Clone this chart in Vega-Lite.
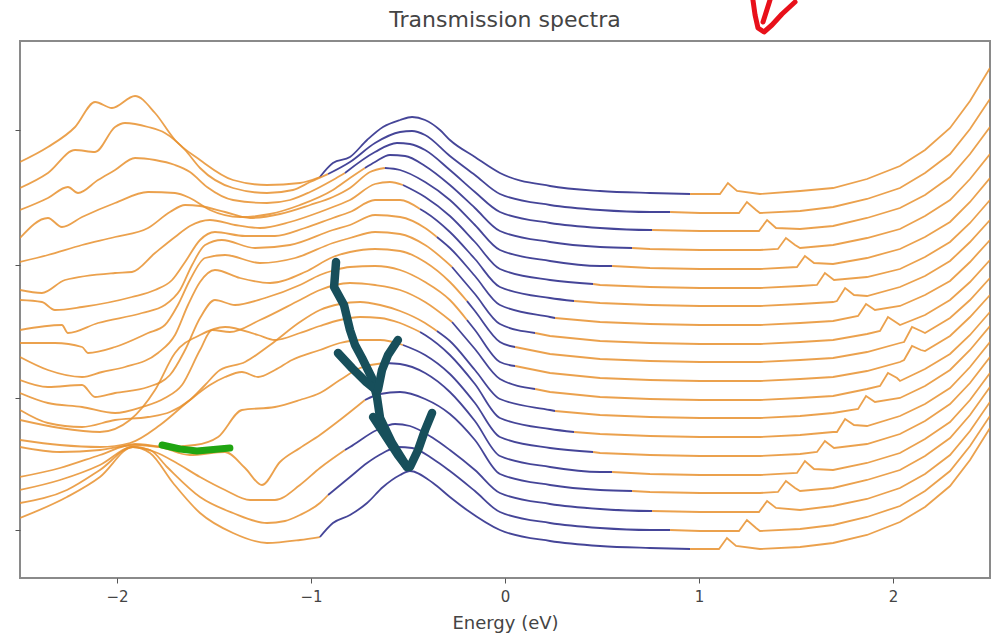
{
"$schema": "https://vega.github.io/schema/vega-lite/v6.json",
"width": 970, "height": 537,
"autosize": {"type": "none"},
"padding": {"left": 20, "top": 41, "right": 11, "bottom": 57},
"background": "white",
"title": {"text": "Transmission spectra", "fontSize": 22, "font": "DejaVu Sans", "fontWeight": "normal", "color": "#444444", "offset": 12, "dy": 46, "anchor": "middle"},
"config": {"view": {"stroke": "#8a8a8a", "strokeWidth": 2}},
"datasets": {
"curves": [
{"s":"0L","c":"o","E":-2.5,"T":4.16},{"s":"0L","c":"o","E":-2.356,"T":4.31},{"s":"0L","c":"o","E":-2.216,"T":4.51},{"s":"0L","c":"o","E":-2.113,"T":4.76},{"s":"0L","c":"o","E":-2.026,"T":4.70},{"s":"0L","c":"o","E":-1.907,"T":4.82},{"s":"0L","c":"o","E":-1.804,"T":4.65},{"s":"0L","c":"o","E":-1.701,"T":4.38},{"s":"0L","c":"o","E":-1.572,"T":4.18},{"s":"0L","c":"o","E":-1.402,"T":3.98},{"s":"0L","c":"o","E":-1.227,"T":3.93},{"s":"0L","c":"o","E":-1.057,"T":3.95},{"s":"0L","c":"o","E":-0.954,"T":4.01},
{"s":"0B","c":"b","E":-0.954,"T":4.01},{"s":"0B","c":"b","E":-0.887,"T":4.15},{"s":"0B","c":"b","E":-0.799,"T":4.21},{"s":"0B","c":"b","E":-0.711,"T":4.38},{"s":"0B","c":"b","E":-0.629,"T":4.51},{"s":"0B","c":"b","E":-0.541,"T":4.58},{"s":"0B","c":"b","E":-0.479,"T":4.61},{"s":"0B","c":"b","E":-0.412,"T":4.58},{"s":"0B","c":"b","E":-0.335,"T":4.48},{"s":"0B","c":"b","E":-0.284,"T":4.38},{"s":"0B","c":"b","E":-0.155,"T":4.21},{"s":"0B","c":"b","E":-0.026,"T":4.05},{"s":"0B","c":"b","E":0.232,"T":3.92},{"s":"0B","c":"b","E":0.490,"T":3.87},{"s":"0B","c":"b","E":0.747,"T":3.85},{"s":"0B","c":"b","E":0.954,"T":3.84},
{"s":"0R","c":"o","E":0.954,"T":3.84},{"s":"0R","c":"o","E":1.005,"T":3.84},{"s":"0R","c":"o","E":1.108,"T":3.84},{"s":"0R","c":"o","E":1.149,"T":3.95},{"s":"0R","c":"o","E":1.196,"T":3.87},{"s":"0R","c":"o","E":1.314,"T":3.84},{"s":"0R","c":"o","E":1.521,"T":3.87},{"s":"0R","c":"o","E":1.691,"T":3.90},{"s":"0R","c":"o","E":1.866,"T":3.99},{"s":"0R","c":"o","E":2.036,"T":4.12},{"s":"0R","c":"o","E":2.165,"T":4.28},{"s":"0R","c":"o","E":2.294,"T":4.50},{"s":"0R","c":"o","E":2.397,"T":4.77},{"s":"0R","c":"o","E":2.5,"T":5.10},

{"s":"1L","c":"o","E":-2.5,"T":3.90},{"s":"1L","c":"o","E":-2.356,"T":4.05},{"s":"1L","c":"o","E":-2.216,"T":4.28},{"s":"1L","c":"o","E":-2.113,"T":4.26},{"s":"1L","c":"o","E":-2.010,"T":4.51},{"s":"1L","c":"o","E":-1.959,"T":4.55},{"s":"1L","c":"o","E":-1.840,"T":4.51},{"s":"1L","c":"o","E":-1.753,"T":4.45},{"s":"1L","c":"o","E":-1.649,"T":4.28},{"s":"1L","c":"o","E":-1.572,"T":4.10},{"s":"1L","c":"o","E":-1.402,"T":3.90},{"s":"1L","c":"o","E":-1.227,"T":3.85},{"s":"1L","c":"o","E":-1.093,"T":3.88},{"s":"1L","c":"o","E":-1.005,"T":3.96},{"s":"1L","c":"o","E":-0.912,"T":4.04},
{"s":"1B","c":"b","E":-0.912,"T":4.04},{"s":"1B","c":"b","E":-0.799,"T":4.16},{"s":"1B","c":"b","E":-0.670,"T":4.35},{"s":"1B","c":"b","E":-0.541,"T":4.46},{"s":"1B","c":"b","E":-0.479,"T":4.47},{"s":"1B","c":"b","E":-0.412,"T":4.43},{"s":"1B","c":"b","E":-0.284,"T":4.22},{"s":"1B","c":"b","E":-0.155,"T":4.03},{"s":"1B","c":"b","E":-0.026,"T":3.84},{"s":"1B","c":"b","E":0.232,"T":3.73},{"s":"1B","c":"b","E":0.490,"T":3.68},{"s":"1B","c":"b","E":0.747,"T":3.66},{"s":"1B","c":"b","E":0.851,"T":3.66},
{"s":"1R","c":"o","E":0.851,"T":3.66},{"s":"1R","c":"o","E":1.005,"T":3.65},{"s":"1R","c":"o","E":1.206,"T":3.65},{"s":"1R","c":"o","E":1.247,"T":3.76},{"s":"1R","c":"o","E":1.294,"T":3.68},{"s":"1R","c":"o","E":1.314,"T":3.65},{"s":"1R","c":"o","E":1.521,"T":3.67},{"s":"1R","c":"o","E":1.691,"T":3.71},{"s":"1R","c":"o","E":1.866,"T":3.79},{"s":"1R","c":"o","E":2.036,"T":3.90},{"s":"1R","c":"o","E":2.165,"T":4.05},{"s":"1R","c":"o","E":2.294,"T":4.24},{"s":"1R","c":"o","E":2.397,"T":4.49},{"s":"1R","c":"o","E":2.5,"T":4.79},

{"s":"2L","c":"o","E":-2.5,"T":3.68},{"s":"2L","c":"o","E":-2.356,"T":3.80},{"s":"2L","c":"o","E":-2.253,"T":3.91},{"s":"2L","c":"o","E":-2.201,"T":3.85},{"s":"2L","c":"o","E":-2.098,"T":3.98},{"s":"2L","c":"o","E":-2.010,"T":4.08},{"s":"2L","c":"o","E":-1.907,"T":4.20},{"s":"2L","c":"o","E":-1.804,"T":4.18},{"s":"2L","c":"o","E":-1.701,"T":4.13},{"s":"2L","c":"o","E":-1.624,"T":4.06},{"s":"2L","c":"o","E":-1.536,"T":3.91},{"s":"2L","c":"o","E":-1.402,"T":3.78},{"s":"2L","c":"o","E":-1.227,"T":3.75},{"s":"2L","c":"o","E":-1.108,"T":3.78},{"s":"2L","c":"o","E":-1.005,"T":3.86},{"s":"2L","c":"o","E":-0.887,"T":3.98},{"s":"2L","c":"o","E":-0.825,"T":4.05},
{"s":"2B","c":"b","E":-0.825,"T":4.05},{"s":"2B","c":"b","E":-0.670,"T":4.26},{"s":"2B","c":"b","E":-0.557,"T":4.35},{"s":"2B","c":"b","E":-0.490,"T":4.34},{"s":"2B","c":"b","E":-0.412,"T":4.28},{"s":"2B","c":"b","E":-0.284,"T":4.08},{"s":"2B","c":"b","E":-0.155,"T":3.86},{"s":"2B","c":"b","E":-0.026,"T":3.66},{"s":"2B","c":"b","E":0.232,"T":3.55},{"s":"2B","c":"b","E":0.490,"T":3.50},{"s":"2B","c":"b","E":0.747,"T":3.48},{"s":"2B","c":"b","E":0.758,"T":3.48},
{"s":"2R","c":"o","E":0.758,"T":3.48},{"s":"2R","c":"o","E":1.005,"T":3.47},{"s":"2R","c":"o","E":1.309,"T":3.47},{"s":"2R","c":"o","E":1.351,"T":3.58},{"s":"2R","c":"o","E":1.397,"T":3.50},{"s":"2R","c":"o","E":1.521,"T":3.49},{"s":"2R","c":"o","E":1.691,"T":3.52},{"s":"2R","c":"o","E":1.866,"T":3.60},{"s":"2R","c":"o","E":2.036,"T":3.70},{"s":"2R","c":"o","E":2.165,"T":3.83},{"s":"2R","c":"o","E":2.294,"T":4.01},{"s":"2R","c":"o","E":2.397,"T":4.24},{"s":"2R","c":"o","E":2.5,"T":4.51},

{"s":"3L","c":"o","E":-2.5,"T":3.40},{"s":"3L","c":"o","E":-2.356,"T":3.60},{"s":"3L","c":"o","E":-2.284,"T":3.51},{"s":"3L","c":"o","E":-2.180,"T":3.61},{"s":"3L","c":"o","E":-2.010,"T":3.75},{"s":"3L","c":"o","E":-1.840,"T":3.86},{"s":"3L","c":"o","E":-1.701,"T":3.85},{"s":"3L","c":"o","E":-1.624,"T":3.80},{"s":"3L","c":"o","E":-1.521,"T":3.68},{"s":"3L","c":"o","E":-1.366,"T":3.61},{"s":"3L","c":"o","E":-1.211,"T":3.64},{"s":"3L","c":"o","E":-1.057,"T":3.73},{"s":"3L","c":"o","E":-0.887,"T":3.88},{"s":"3L","c":"o","E":-0.799,"T":4.00},{"s":"3L","c":"o","E":-0.722,"T":4.10},
{"s":"3B","c":"b","E":-0.722,"T":4.10},{"s":"3B","c":"b","E":-0.670,"T":4.16},{"s":"3B","c":"b","E":-0.593,"T":4.23},{"s":"3B","c":"b","E":-0.515,"T":4.22},{"s":"3B","c":"b","E":-0.412,"T":4.12},{"s":"3B","c":"b","E":-0.284,"T":3.93},{"s":"3B","c":"b","E":-0.155,"T":3.70},{"s":"3B","c":"b","E":-0.026,"T":3.47},{"s":"3B","c":"b","E":0.232,"T":3.36},{"s":"3B","c":"b","E":0.490,"T":3.31},{"s":"3B","c":"b","E":0.655,"T":3.30},
{"s":"3R","c":"o","E":0.655,"T":3.30},{"s":"3R","c":"o","E":0.747,"T":3.29},{"s":"3R","c":"o","E":1.005,"T":3.28},{"s":"3R","c":"o","E":1.314,"T":3.28},{"s":"3R","c":"o","E":1.407,"T":3.29},{"s":"3R","c":"o","E":1.448,"T":3.40},{"s":"3R","c":"o","E":1.495,"T":3.33},{"s":"3R","c":"o","E":1.521,"T":3.30},{"s":"3R","c":"o","E":1.691,"T":3.33},{"s":"3R","c":"o","E":1.866,"T":3.40},{"s":"3R","c":"o","E":2.036,"T":3.49},{"s":"3R","c":"o","E":2.165,"T":3.62},{"s":"3R","c":"o","E":2.294,"T":3.78},{"s":"3R","c":"o","E":2.397,"T":3.99},{"s":"3R","c":"o","E":2.5,"T":4.24},

{"s":"4L","c":"o","E":-2.5,"T":3.16},{"s":"4L","c":"o","E":-2.356,"T":3.23},{"s":"4L","c":"o","E":-2.180,"T":3.33},{"s":"4L","c":"o","E":-2.010,"T":3.41},{"s":"4L","c":"o","E":-1.840,"T":3.50},{"s":"4L","c":"o","E":-1.727,"T":3.66},{"s":"4L","c":"o","E":-1.649,"T":3.73},{"s":"4L","c":"o","E":-1.572,"T":3.72},{"s":"4L","c":"o","E":-1.443,"T":3.66},{"s":"4L","c":"o","E":-1.314,"T":3.60},{"s":"4L","c":"o","E":-1.160,"T":3.64},{"s":"4L","c":"o","E":-1.005,"T":3.73},{"s":"4L","c":"o","E":-0.887,"T":3.81},{"s":"4L","c":"o","E":-0.799,"T":3.90},{"s":"4L","c":"o","E":-0.696,"T":4.06},{"s":"4L","c":"o","E":-0.619,"T":4.10},
{"s":"4B","c":"b","E":-0.619,"T":4.10},{"s":"4B","c":"b","E":-0.541,"T":4.08},{"s":"4B","c":"b","E":-0.412,"T":3.96},{"s":"4B","c":"b","E":-0.284,"T":3.78},{"s":"4B","c":"b","E":-0.155,"T":3.53},{"s":"4B","c":"b","E":-0.026,"T":3.28},{"s":"4B","c":"b","E":0.232,"T":3.17},{"s":"4B","c":"b","E":0.490,"T":3.12},{"s":"4B","c":"b","E":0.552,"T":3.12},
{"s":"4R","c":"o","E":0.552,"T":3.12},{"s":"4R","c":"o","E":0.747,"T":3.10},{"s":"4R","c":"o","E":1.005,"T":3.09},{"s":"4R","c":"o","E":1.314,"T":3.09},{"s":"4R","c":"o","E":1.505,"T":3.11},{"s":"4R","c":"o","E":1.546,"T":3.22},{"s":"4R","c":"o","E":1.593,"T":3.15},{"s":"4R","c":"o","E":1.691,"T":3.14},{"s":"4R","c":"o","E":1.866,"T":3.20},{"s":"4R","c":"o","E":2.036,"T":3.29},{"s":"4R","c":"o","E":2.165,"T":3.41},{"s":"4R","c":"o","E":2.294,"T":3.56},{"s":"4R","c":"o","E":2.397,"T":3.76},{"s":"4R","c":"o","E":2.5,"T":4.00},

{"s":"5L","c":"o","E":-2.5,"T":2.88},{"s":"5L","c":"o","E":-2.387,"T":2.85},{"s":"5L","c":"o","E":-2.268,"T":2.98},{"s":"5L","c":"o","E":-2.010,"T":3.05},{"s":"5L","c":"o","E":-1.923,"T":3.06},{"s":"5L","c":"o","E":-1.804,"T":3.25},{"s":"5L","c":"o","E":-1.701,"T":3.41},{"s":"5L","c":"o","E":-1.624,"T":3.52},{"s":"5L","c":"o","E":-1.521,"T":3.58},{"s":"5L","c":"o","E":-1.392,"T":3.53},{"s":"5L","c":"o","E":-1.263,"T":3.50},{"s":"5L","c":"o","E":-1.108,"T":3.56},{"s":"5L","c":"o","E":-0.954,"T":3.66},{"s":"5L","c":"o","E":-0.887,"T":3.71},{"s":"5L","c":"o","E":-0.799,"T":3.78},{"s":"5L","c":"o","E":-0.670,"T":3.94},{"s":"5L","c":"o","E":-0.593,"T":3.96},{"s":"5L","c":"o","E":-0.526,"T":3.93},
{"s":"5B","c":"b","E":-0.526,"T":3.93},{"s":"5B","c":"b","E":-0.412,"T":3.81},{"s":"5B","c":"b","E":-0.284,"T":3.62},{"s":"5B","c":"b","E":-0.155,"T":3.36},{"s":"5B","c":"b","E":-0.026,"T":3.09},{"s":"5B","c":"b","E":0.232,"T":2.98},{"s":"5B","c":"b","E":0.454,"T":2.94},
{"s":"5R","c":"o","E":0.454,"T":2.94},{"s":"5R","c":"o","E":0.490,"T":2.93},{"s":"5R","c":"o","E":0.747,"T":2.91},{"s":"5R","c":"o","E":1.005,"T":2.90},{"s":"5R","c":"o","E":1.314,"T":2.90},{"s":"5R","c":"o","E":1.521,"T":2.92},{"s":"5R","c":"o","E":1.608,"T":2.93},{"s":"5R","c":"o","E":1.649,"T":3.05},{"s":"5R","c":"o","E":1.696,"T":2.98},{"s":"5R","c":"o","E":1.866,"T":3.01},{"s":"5R","c":"o","E":2.036,"T":3.09},{"s":"5R","c":"o","E":2.165,"T":3.21},{"s":"5R","c":"o","E":2.294,"T":3.36},{"s":"5R","c":"o","E":2.397,"T":3.55},{"s":"5R","c":"o","E":2.5,"T":3.78},

{"s":"6L","c":"o","E":-2.5,"T":2.78},{"s":"6L","c":"o","E":-2.387,"T":2.76},{"s":"6L","c":"o","E":-2.320,"T":2.68},{"s":"6L","c":"o","E":-2.180,"T":2.71},{"s":"6L","c":"o","E":-1.923,"T":2.81},{"s":"6L","c":"o","E":-1.804,"T":2.88},{"s":"6L","c":"o","E":-1.716,"T":2.98},{"s":"6L","c":"o","E":-1.649,"T":3.16},{"s":"6L","c":"o","E":-1.572,"T":3.38},{"s":"6L","c":"o","E":-1.495,"T":3.46},{"s":"6L","c":"o","E":-1.340,"T":3.42},{"s":"6L","c":"o","E":-1.186,"T":3.42},{"s":"6L","c":"o","E":-1.031,"T":3.50},{"s":"6L","c":"o","E":-0.887,"T":3.60},{"s":"6L","c":"o","E":-0.799,"T":3.66},{"s":"6L","c":"o","E":-0.670,"T":3.78},{"s":"6L","c":"o","E":-0.541,"T":3.78},{"s":"6L","c":"o","E":-0.438,"T":3.69},
{"s":"6B","c":"b","E":-0.438,"T":3.69},{"s":"6B","c":"b","E":-0.412,"T":3.66},{"s":"6B","c":"b","E":-0.284,"T":3.46},{"s":"6B","c":"b","E":-0.155,"T":3.19},{"s":"6B","c":"b","E":-0.026,"T":2.91},{"s":"6B","c":"b","E":0.232,"T":2.80},{"s":"6B","c":"b","E":0.356,"T":2.77},
{"s":"6R","c":"o","E":0.356,"T":2.77},{"s":"6R","c":"o","E":0.490,"T":2.75},{"s":"6R","c":"o","E":0.747,"T":2.73},{"s":"6R","c":"o","E":1.005,"T":2.72},{"s":"6R","c":"o","E":1.314,"T":2.72},{"s":"6R","c":"o","E":1.521,"T":2.74},{"s":"6R","c":"o","E":1.691,"T":2.76},{"s":"6R","c":"o","E":1.711,"T":2.77},{"s":"6R","c":"o","E":1.753,"T":2.90},{"s":"6R","c":"o","E":1.799,"T":2.83},{"s":"6R","c":"o","E":1.866,"T":2.82},{"s":"6R","c":"o","E":2.036,"T":2.91},{"s":"6R","c":"o","E":2.165,"T":3.02},{"s":"6R","c":"o","E":2.294,"T":3.17},{"s":"6R","c":"o","E":2.397,"T":3.36},{"s":"6R","c":"o","E":2.5,"T":3.58},

{"s":"7L","c":"o","E":-2.5,"T":2.48},{"s":"7L","c":"o","E":-2.284,"T":2.53},{"s":"7L","c":"o","E":-2.253,"T":2.45},{"s":"7L","c":"o","E":-2.098,"T":2.55},{"s":"7L","c":"o","E":-1.871,"T":2.65},{"s":"7L","c":"o","E":-1.753,"T":2.73},{"s":"7L","c":"o","E":-1.675,"T":2.88},{"s":"7L","c":"o","E":-1.613,"T":3.13},{"s":"7L","c":"o","E":-1.546,"T":3.33},{"s":"7L","c":"o","E":-1.459,"T":3.38},{"s":"7L","c":"o","E":-1.289,"T":3.30},{"s":"7L","c":"o","E":-1.108,"T":3.33},{"s":"7L","c":"o","E":-0.887,"T":3.48},{"s":"7L","c":"o","E":-0.799,"T":3.53},{"s":"7L","c":"o","E":-0.670,"T":3.63},{"s":"7L","c":"o","E":-0.541,"T":3.61},{"s":"7L","c":"o","E":-0.412,"T":3.50},{"s":"7L","c":"o","E":-0.351,"T":3.41},
{"s":"7B","c":"b","E":-0.351,"T":3.41},{"s":"7B","c":"b","E":-0.284,"T":3.30},{"s":"7B","c":"b","E":-0.155,"T":3.02},{"s":"7B","c":"b","E":-0.026,"T":2.73},{"s":"7B","c":"b","E":0.232,"T":2.61},{"s":"7B","c":"b","E":0.258,"T":2.60},
{"s":"7R","c":"o","E":0.258,"T":2.60},{"s":"7R","c":"o","E":0.490,"T":2.56},{"s":"7R","c":"o","E":0.747,"T":2.54},{"s":"7R","c":"o","E":1.005,"T":2.53},{"s":"7R","c":"o","E":1.314,"T":2.53},{"s":"7R","c":"o","E":1.521,"T":2.55},{"s":"7R","c":"o","E":1.691,"T":2.57},{"s":"7R","c":"o","E":1.820,"T":2.62},{"s":"7R","c":"o","E":1.861,"T":2.74},{"s":"7R","c":"o","E":1.907,"T":2.68},{"s":"7R","c":"o","E":2.036,"T":2.72},{"s":"7R","c":"o","E":2.165,"T":2.83},{"s":"7R","c":"o","E":2.294,"T":2.97},{"s":"7R","c":"o","E":2.397,"T":3.16},{"s":"7R","c":"o","E":2.5,"T":3.38},

{"s":"8L","c":"o","E":-2.5,"T":2.35},{"s":"8L","c":"o","E":-2.320,"T":2.35},{"s":"8L","c":"o","E":-2.180,"T":2.31},{"s":"8L","c":"o","E":-2.149,"T":2.25},{"s":"8L","c":"o","E":-2.010,"T":2.31},{"s":"8L","c":"o","E":-1.840,"T":2.45},{"s":"8L","c":"o","E":-1.753,"T":2.53},{"s":"8L","c":"o","E":-1.686,"T":2.73},{"s":"8L","c":"o","E":-1.624,"T":2.98},{"s":"8L","c":"o","E":-1.546,"T":3.20},{"s":"8L","c":"o","E":-1.443,"T":3.23},{"s":"8L","c":"o","E":-1.263,"T":3.15},{"s":"8L","c":"o","E":-1.082,"T":3.20},{"s":"8L","c":"o","E":-0.887,"T":3.35},{"s":"8L","c":"o","E":-0.799,"T":3.40},{"s":"8L","c":"o","E":-0.670,"T":3.46},{"s":"8L","c":"o","E":-0.541,"T":3.44},{"s":"8L","c":"o","E":-0.412,"T":3.33},{"s":"8L","c":"o","E":-0.273,"T":3.11},
{"s":"8B","c":"b","E":-0.273,"T":3.11},{"s":"8B","c":"b","E":-0.155,"T":2.84},{"s":"8B","c":"b","E":-0.026,"T":2.54},{"s":"8B","c":"b","E":0.155,"T":2.45},
{"s":"8R","c":"o","E":0.155,"T":2.45},{"s":"8R","c":"o","E":0.232,"T":2.42},{"s":"8R","c":"o","E":0.490,"T":2.37},{"s":"8R","c":"o","E":0.747,"T":2.35},{"s":"8R","c":"o","E":1.005,"T":2.34},{"s":"8R","c":"o","E":1.314,"T":2.34},{"s":"8R","c":"o","E":1.521,"T":2.36},{"s":"8R","c":"o","E":1.691,"T":2.38},{"s":"8R","c":"o","E":1.866,"T":2.44},{"s":"8R","c":"o","E":1.933,"T":2.47},{"s":"8R","c":"o","E":1.974,"T":2.61},{"s":"8R","c":"o","E":2.021,"T":2.55},{"s":"8R","c":"o","E":2.036,"T":2.53},{"s":"8R","c":"o","E":2.165,"T":2.63},{"s":"8R","c":"o","E":2.294,"T":2.78},{"s":"8R","c":"o","E":2.397,"T":2.96},{"s":"8R","c":"o","E":2.5,"T":3.18},

{"s":"9L","c":"o","E":-2.5,"T":2.21},{"s":"9L","c":"o","E":-2.356,"T":2.08},{"s":"9L","c":"o","E":-2.180,"T":2.01},{"s":"9L","c":"o","E":-2.077,"T":2.06},{"s":"9L","c":"o","E":-1.959,"T":2.11},{"s":"9L","c":"o","E":-1.789,"T":2.25},{"s":"9L","c":"o","E":-1.701,"T":2.43},{"s":"9L","c":"o","E":-1.634,"T":2.73},{"s":"9L","c":"o","E":-1.572,"T":2.96},{"s":"9L","c":"o","E":-1.495,"T":3.08},{"s":"9L","c":"o","E":-1.366,"T":3.00},{"s":"9L","c":"o","E":-1.211,"T":2.95},{"s":"9L","c":"o","E":-1.031,"T":3.06},{"s":"9L","c":"o","E":-0.887,"T":3.21},{"s":"9L","c":"o","E":-0.799,"T":3.26},{"s":"9L","c":"o","E":-0.670,"T":3.29},{"s":"9L","c":"o","E":-0.541,"T":3.27},{"s":"9L","c":"o","E":-0.412,"T":3.16},{"s":"9L","c":"o","E":-0.284,"T":2.96},{"s":"9L","c":"o","E":-0.196,"T":2.77},
{"s":"9B","c":"b","E":-0.196,"T":2.77},{"s":"9B","c":"b","E":-0.155,"T":2.67},{"s":"9B","c":"b","E":-0.026,"T":2.36},{"s":"9B","c":"b","E":0.052,"T":2.31},
{"s":"9R","c":"o","E":0.052,"T":2.31},{"s":"9R","c":"o","E":0.232,"T":2.24},{"s":"9R","c":"o","E":0.490,"T":2.19},{"s":"9R","c":"o","E":0.747,"T":2.17},{"s":"9R","c":"o","E":1.005,"T":2.16},{"s":"9R","c":"o","E":1.314,"T":2.16},{"s":"9R","c":"o","E":1.521,"T":2.18},{"s":"9R","c":"o","E":1.691,"T":2.20},{"s":"9R","c":"o","E":1.866,"T":2.26},{"s":"9R","c":"o","E":2.036,"T":2.35},{"s":"9R","c":"o","E":2.057,"T":2.36},{"s":"9R","c":"o","E":2.098,"T":2.51},{"s":"9R","c":"o","E":2.144,"T":2.47},{"s":"9R","c":"o","E":2.165,"T":2.45},{"s":"9R","c":"o","E":2.294,"T":2.60},{"s":"9R","c":"o","E":2.397,"T":2.78},{"s":"9R","c":"o","E":2.5,"T":3.00},

{"s":"10L","c":"o","E":-2.5,"T":1.98},{"s":"10L","c":"o","E":-2.356,"T":1.91},{"s":"10L","c":"o","E":-2.180,"T":1.93},{"s":"10L","c":"o","E":-2.113,"T":1.81},{"s":"10L","c":"o","E":-2.010,"T":1.85},{"s":"10L","c":"o","E":-1.840,"T":1.91},{"s":"10L","c":"o","E":-1.727,"T":2.03},{"s":"10L","c":"o","E":-1.649,"T":2.28},{"s":"10L","c":"o","E":-1.572,"T":2.60},{"s":"10L","c":"o","E":-1.495,"T":2.78},{"s":"10L","c":"o","E":-1.392,"T":2.73},{"s":"10L","c":"o","E":-1.237,"T":2.80},{"s":"10L","c":"o","E":-1.057,"T":2.93},{"s":"10L","c":"o","E":-0.954,"T":3.03},{"s":"10L","c":"o","E":-0.876,"T":3.08},{"s":"10L","c":"o","E":-0.799,"T":3.11},{"s":"10L","c":"o","E":-0.670,"T":3.12},{"s":"10L","c":"o","E":-0.541,"T":3.08},{"s":"10L","c":"o","E":-0.412,"T":2.96},{"s":"10L","c":"o","E":-0.284,"T":2.78},{"s":"10L","c":"o","E":-0.196,"T":2.58},
{"s":"10B","c":"b","E":-0.196,"T":2.58},{"s":"10B","c":"b","E":-0.155,"T":2.48},{"s":"10B","c":"b","E":-0.026,"T":2.16},{"s":"10B","c":"b","E":0.052,"T":2.12},
{"s":"10R","c":"o","E":0.052,"T":2.12},{"s":"10R","c":"o","E":0.232,"T":2.05},{"s":"10R","c":"o","E":0.490,"T":2.00},{"s":"10R","c":"o","E":0.747,"T":1.98},{"s":"10R","c":"o","E":1.005,"T":1.97},{"s":"10R","c":"o","E":1.314,"T":1.97},{"s":"10R","c":"o","E":1.521,"T":1.99},{"s":"10R","c":"o","E":1.691,"T":2.01},{"s":"10R","c":"o","E":1.866,"T":2.07},{"s":"10R","c":"o","E":2.036,"T":2.16},{"s":"10R","c":"o","E":2.057,"T":2.18},{"s":"10R","c":"o","E":2.098,"T":2.32},{"s":"10R","c":"o","E":2.144,"T":2.28},{"s":"10R","c":"o","E":2.165,"T":2.27},{"s":"10R","c":"o","E":2.294,"T":2.42},{"s":"10R","c":"o","E":2.397,"T":2.61},{"s":"10R","c":"o","E":2.5,"T":2.83},

{"s":"11L","c":"o","E":-2.5,"T":1.85},{"s":"11L","c":"o","E":-2.356,"T":1.75},{"s":"11L","c":"o","E":-2.180,"T":1.71},{"s":"11L","c":"o","E":-2.010,"T":1.65},{"s":"11L","c":"o","E":-1.871,"T":1.71},{"s":"11L","c":"o","E":-1.753,"T":1.80},{"s":"11L","c":"o","E":-1.665,"T":1.93},{"s":"11L","c":"o","E":-1.572,"T":2.28},{"s":"11L","c":"o","E":-1.510,"T":2.48},{"s":"11L","c":"o","E":-1.418,"T":2.46},{"s":"11L","c":"o","E":-1.263,"T":2.58},{"s":"11L","c":"o","E":-1.057,"T":2.78},{"s":"11L","c":"o","E":-0.954,"T":2.88},{"s":"11L","c":"o","E":-0.876,"T":2.93},{"s":"11L","c":"o","E":-0.799,"T":2.95},{"s":"11L","c":"o","E":-0.670,"T":2.93},{"s":"11L","c":"o","E":-0.541,"T":2.88},{"s":"11L","c":"o","E":-0.412,"T":2.76},{"s":"11L","c":"o","E":-0.273,"T":2.56},
{"s":"11B","c":"b","E":-0.273,"T":2.56},{"s":"11B","c":"b","E":-0.155,"T":2.29},{"s":"11B","c":"b","E":-0.026,"T":1.99},{"s":"11B","c":"b","E":0.155,"T":1.89},
{"s":"11R","c":"o","E":0.155,"T":1.89},{"s":"11R","c":"o","E":0.232,"T":1.86},{"s":"11R","c":"o","E":0.490,"T":1.81},{"s":"11R","c":"o","E":0.747,"T":1.79},{"s":"11R","c":"o","E":1.005,"T":1.78},{"s":"11R","c":"o","E":1.314,"T":1.78},{"s":"11R","c":"o","E":1.521,"T":1.80},{"s":"11R","c":"o","E":1.691,"T":1.82},{"s":"11R","c":"o","E":1.866,"T":1.89},{"s":"11R","c":"o","E":1.933,"T":1.92},{"s":"11R","c":"o","E":1.974,"T":2.05},{"s":"11R","c":"o","E":2.021,"T":2.00},{"s":"11R","c":"o","E":2.036,"T":1.97},{"s":"11R","c":"o","E":2.165,"T":2.09},{"s":"11R","c":"o","E":2.294,"T":2.24},{"s":"11R","c":"o","E":2.397,"T":2.43},{"s":"11R","c":"o","E":2.5,"T":2.66},

{"s":"12L","c":"o","E":-2.5,"T":1.68},{"s":"12L","c":"o","E":-2.356,"T":1.55},{"s":"12L","c":"o","E":-2.180,"T":1.51},{"s":"12L","c":"o","E":-2.010,"T":1.58},{"s":"12L","c":"o","E":-1.840,"T":1.61},{"s":"12L","c":"o","E":-1.727,"T":1.66},{"s":"12L","c":"o","E":-1.624,"T":1.78},{"s":"12L","c":"o","E":-1.546,"T":1.93},{"s":"12L","c":"o","E":-1.469,"T":2.08},{"s":"12L","c":"o","E":-1.340,"T":2.16},{"s":"12L","c":"o","E":-1.211,"T":2.33},{"s":"12L","c":"o","E":-1.057,"T":2.56},{"s":"12L","c":"o","E":-0.954,"T":2.68},{"s":"12L","c":"o","E":-0.851,"T":2.74},{"s":"12L","c":"o","E":-0.747,"T":2.76},{"s":"12L","c":"o","E":-0.644,"T":2.73},{"s":"12L","c":"o","E":-0.541,"T":2.67},{"s":"12L","c":"o","E":-0.412,"T":2.55},{"s":"12L","c":"o","E":-0.351,"T":2.47},
{"s":"12B","c":"b","E":-0.351,"T":2.47},{"s":"12B","c":"b","E":-0.284,"T":2.37},{"s":"12B","c":"b","E":-0.155,"T":2.08},{"s":"12B","c":"b","E":-0.026,"T":1.79},{"s":"12B","c":"b","E":0.232,"T":1.68},{"s":"12B","c":"b","E":0.258,"T":1.67},
{"s":"12R","c":"o","E":0.258,"T":1.67},{"s":"12R","c":"o","E":0.490,"T":1.63},{"s":"12R","c":"o","E":0.747,"T":1.61},{"s":"12R","c":"o","E":1.005,"T":1.60},{"s":"12R","c":"o","E":1.314,"T":1.60},{"s":"12R","c":"o","E":1.521,"T":1.62},{"s":"12R","c":"o","E":1.691,"T":1.65},{"s":"12R","c":"o","E":1.820,"T":1.69},{"s":"12R","c":"o","E":1.861,"T":1.82},{"s":"12R","c":"o","E":1.907,"T":1.76},{"s":"12R","c":"o","E":2.036,"T":1.80},{"s":"12R","c":"o","E":2.165,"T":1.92},{"s":"12R","c":"o","E":2.294,"T":2.08},{"s":"12R","c":"o","E":2.397,"T":2.28},{"s":"12R","c":"o","E":2.5,"T":2.52},

{"s":"13L","c":"o","E":-2.5,"T":1.58},{"s":"13L","c":"o","E":-2.294,"T":1.50},{"s":"13L","c":"o","E":-2.088,"T":1.46},{"s":"13L","c":"o","E":-1.933,"T":1.58},{"s":"13L","c":"o","E":-1.804,"T":1.88},{"s":"13L","c":"o","E":-1.701,"T":2.25},{"s":"13L","c":"o","E":-1.572,"T":2.43},{"s":"13L","c":"o","E":-1.443,"T":2.51},{"s":"13L","c":"o","E":-1.273,"T":2.43},{"s":"13L","c":"o","E":-1.186,"T":2.38},{"s":"13L","c":"o","E":-1.057,"T":2.45},{"s":"13L","c":"o","E":-0.954,"T":2.52},{"s":"13L","c":"o","E":-0.851,"T":2.58},{"s":"13L","c":"o","E":-0.747,"T":2.61},{"s":"13L","c":"o","E":-0.644,"T":2.60},{"s":"13L","c":"o","E":-0.541,"T":2.55},{"s":"13L","c":"o","E":-0.438,"T":2.46},
{"s":"13B","c":"b","E":-0.438,"T":2.46},{"s":"13B","c":"b","E":-0.412,"T":2.43},{"s":"13B","c":"b","E":-0.284,"T":2.23},{"s":"13B","c":"b","E":-0.155,"T":1.94},{"s":"13B","c":"b","E":-0.026,"T":1.60},{"s":"13B","c":"b","E":0.232,"T":1.49},{"s":"13B","c":"b","E":0.356,"T":1.46},
{"s":"13R","c":"o","E":0.356,"T":1.46},{"s":"13R","c":"o","E":0.490,"T":1.44},{"s":"13R","c":"o","E":0.747,"T":1.42},{"s":"13R","c":"o","E":1.005,"T":1.41},{"s":"13R","c":"o","E":1.314,"T":1.41},{"s":"13R","c":"o","E":1.521,"T":1.43},{"s":"13R","c":"o","E":1.691,"T":1.46},{"s":"13R","c":"o","E":1.711,"T":1.46},{"s":"13R","c":"o","E":1.753,"T":1.59},{"s":"13R","c":"o","E":1.799,"T":1.53},{"s":"13R","c":"o","E":1.866,"T":1.52},{"s":"13R","c":"o","E":2.036,"T":1.62},{"s":"13R","c":"o","E":2.165,"T":1.74},{"s":"13R","c":"o","E":2.294,"T":1.90},{"s":"13R","c":"o","E":2.397,"T":2.11},{"s":"13R","c":"o","E":2.5,"T":2.36},

{"s":"14L","c":"o","E":-2.5,"T":1.38},{"s":"14L","c":"o","E":-2.294,"T":1.33},{"s":"14L","c":"o","E":-2.088,"T":1.31},{"s":"14L","c":"o","E":-1.933,"T":1.35},{"s":"14L","c":"o","E":-1.778,"T":1.53},{"s":"14L","c":"o","E":-1.624,"T":1.78},{"s":"14L","c":"o","E":-1.521,"T":1.93},{"s":"14L","c":"o","E":-1.443,"T":2.01},{"s":"14L","c":"o","E":-1.356,"T":2.06},{"s":"14L","c":"o","E":-1.273,"T":2.01},{"s":"14L","c":"o","E":-1.186,"T":2.08},{"s":"14L","c":"o","E":-1.098,"T":2.18},{"s":"14L","c":"o","E":-0.954,"T":2.28},{"s":"14L","c":"o","E":-0.851,"T":2.35},{"s":"14L","c":"o","E":-0.747,"T":2.38},{"s":"14L","c":"o","E":-0.644,"T":2.38},{"s":"14L","c":"o","E":-0.526,"T":2.33},
{"s":"14B","c":"b","E":-0.526,"T":2.33},{"s":"14B","c":"b","E":-0.412,"T":2.23},{"s":"14B","c":"b","E":-0.284,"T":2.04},{"s":"14B","c":"b","E":-0.155,"T":1.75},{"s":"14B","c":"b","E":-0.026,"T":1.41},{"s":"14B","c":"b","E":0.232,"T":1.30},{"s":"14B","c":"b","E":0.454,"T":1.26},
{"s":"14R","c":"o","E":0.454,"T":1.26},{"s":"14R","c":"o","E":0.490,"T":1.25},{"s":"14R","c":"o","E":0.747,"T":1.23},{"s":"14R","c":"o","E":1.005,"T":1.22},{"s":"14R","c":"o","E":1.314,"T":1.22},{"s":"14R","c":"o","E":1.521,"T":1.24},{"s":"14R","c":"o","E":1.608,"T":1.26},{"s":"14R","c":"o","E":1.649,"T":1.37},{"s":"14R","c":"o","E":1.696,"T":1.30},{"s":"14R","c":"o","E":1.866,"T":1.34},{"s":"14R","c":"o","E":2.036,"T":1.44},{"s":"14R","c":"o","E":2.165,"T":1.57},{"s":"14R","c":"o","E":2.294,"T":1.74},{"s":"14R","c":"o","E":2.397,"T":1.95},{"s":"14R","c":"o","E":2.5,"T":2.21},

{"s":"15L","c":"o","E":-2.5,"T":1.31},{"s":"15L","c":"o","E":-2.294,"T":1.26},{"s":"15L","c":"o","E":-2.088,"T":1.28},{"s":"15L","c":"o","E":-1.907,"T":1.33},{"s":"15L","c":"o","E":-1.753,"T":1.31},{"s":"15L","c":"o","E":-1.598,"T":1.33},{"s":"15L","c":"o","E":-1.479,"T":1.41},{"s":"15L","c":"o","E":-1.356,"T":1.68},{"s":"15L","c":"o","E":-1.186,"T":1.71},{"s":"15L","c":"o","E":-1.057,"T":1.78},{"s":"15L","c":"o","E":-0.954,"T":1.85},{"s":"15L","c":"o","E":-0.851,"T":1.98},{"s":"15L","c":"o","E":-0.747,"T":2.10},{"s":"15L","c":"o","E":-0.619,"T":2.15},
{"s":"15B","c":"b","E":-0.619,"T":2.15},{"s":"15B","c":"b","E":-0.541,"T":2.14},{"s":"15B","c":"b","E":-0.412,"T":2.05},{"s":"15B","c":"b","E":-0.284,"T":1.86},{"s":"15B","c":"b","E":-0.155,"T":1.57},{"s":"15B","c":"b","E":-0.026,"T":1.22},{"s":"15B","c":"b","E":0.232,"T":1.11},{"s":"15B","c":"b","E":0.490,"T":1.06},{"s":"15B","c":"b","E":0.552,"T":1.06},
{"s":"15R","c":"o","E":0.552,"T":1.06},{"s":"15R","c":"o","E":0.747,"T":1.04},{"s":"15R","c":"o","E":1.005,"T":1.03},{"s":"15R","c":"o","E":1.314,"T":1.03},{"s":"15R","c":"o","E":1.505,"T":1.05},{"s":"15R","c":"o","E":1.546,"T":1.17},{"s":"15R","c":"o","E":1.593,"T":1.09},{"s":"15R","c":"o","E":1.691,"T":1.08},{"s":"15R","c":"o","E":1.866,"T":1.15},{"s":"15R","c":"o","E":2.036,"T":1.25},{"s":"15R","c":"o","E":2.165,"T":1.39},{"s":"15R","c":"o","E":2.294,"T":1.56},{"s":"15R","c":"o","E":2.397,"T":1.78},{"s":"15R","c":"o","E":2.5,"T":2.05},

{"s":"16L","c":"o","E":-2.5,"T":1.01},{"s":"16L","c":"o","E":-2.294,"T":1.10},{"s":"16L","c":"o","E":-2.088,"T":1.23},{"s":"16L","c":"o","E":-1.907,"T":1.34},{"s":"16L","c":"o","E":-1.778,"T":1.31},{"s":"16L","c":"o","E":-1.624,"T":1.23},{"s":"16L","c":"o","E":-1.443,"T":1.26},{"s":"16L","c":"o","E":-1.340,"T":1.10},{"s":"16L","c":"o","E":-1.253,"T":0.93},{"s":"16L","c":"o","E":-1.160,"T":1.16},{"s":"16L","c":"o","E":-1.057,"T":1.30},{"s":"16L","c":"o","E":-0.954,"T":1.43},{"s":"16L","c":"o","E":-0.851,"T":1.58},{"s":"16L","c":"o","E":-0.722,"T":1.78},
{"s":"16B","c":"b","E":-0.722,"T":1.78},{"s":"16B","c":"b","E":-0.644,"T":1.84},{"s":"16B","c":"b","E":-0.541,"T":1.86},{"s":"16B","c":"b","E":-0.412,"T":1.79},{"s":"16B","c":"b","E":-0.284,"T":1.64},{"s":"16B","c":"b","E":-0.155,"T":1.38},{"s":"16B","c":"b","E":-0.026,"T":1.04},{"s":"16B","c":"b","E":0.232,"T":0.93},{"s":"16B","c":"b","E":0.490,"T":0.88},{"s":"16B","c":"b","E":0.655,"T":0.87},
{"s":"16R","c":"o","E":0.655,"T":0.87},{"s":"16R","c":"o","E":0.747,"T":0.86},{"s":"16R","c":"o","E":1.005,"T":0.85},{"s":"16R","c":"o","E":1.314,"T":0.85},{"s":"16R","c":"o","E":1.407,"T":0.86},{"s":"16R","c":"o","E":1.448,"T":0.97},{"s":"16R","c":"o","E":1.495,"T":0.90},{"s":"16R","c":"o","E":1.521,"T":0.87},{"s":"16R","c":"o","E":1.691,"T":0.90},{"s":"16R","c":"o","E":1.866,"T":0.98},{"s":"16R","c":"o","E":2.036,"T":1.08},{"s":"16R","c":"o","E":2.165,"T":1.22},{"s":"16R","c":"o","E":2.294,"T":1.40},{"s":"16R","c":"o","E":2.397,"T":1.63},{"s":"16R","c":"o","E":2.5,"T":1.91},

{"s":"17L","c":"o","E":-2.5,"T":0.88},{"s":"17L","c":"o","E":-2.294,"T":0.98},{"s":"17L","c":"o","E":-2.088,"T":1.13},{"s":"17L","c":"o","E":-1.918,"T":1.31},{"s":"17L","c":"o","E":-1.804,"T":1.26},{"s":"17L","c":"o","E":-1.701,"T":1.16},{"s":"17L","c":"o","E":-1.572,"T":1.01},{"s":"17L","c":"o","E":-1.443,"T":0.88},{"s":"17L","c":"o","E":-1.314,"T":0.78},{"s":"17L","c":"o","E":-1.186,"T":0.78},{"s":"17L","c":"o","E":-1.057,"T":0.93},{"s":"17L","c":"o","E":-0.954,"T":1.10},{"s":"17L","c":"o","E":-0.825,"T":1.28},
{"s":"17B","c":"b","E":-0.825,"T":1.28},{"s":"17B","c":"b","E":-0.799,"T":1.31},{"s":"17B","c":"b","E":-0.660,"T":1.48},{"s":"17B","c":"b","E":-0.567,"T":1.54},{"s":"17B","c":"b","E":-0.490,"T":1.52},{"s":"17B","c":"b","E":-0.371,"T":1.40},{"s":"17B","c":"b","E":-0.284,"T":1.28},{"s":"17B","c":"b","E":-0.155,"T":1.08},{"s":"17B","c":"b","E":-0.026,"T":0.85},{"s":"17B","c":"b","E":0.232,"T":0.74},{"s":"17B","c":"b","E":0.490,"T":0.69},{"s":"17B","c":"b","E":0.747,"T":0.67},{"s":"17B","c":"b","E":0.758,"T":0.67},
{"s":"17R","c":"o","E":0.758,"T":0.67},{"s":"17R","c":"o","E":1.005,"T":0.66},{"s":"17R","c":"o","E":1.309,"T":0.66},{"s":"17R","c":"o","E":1.351,"T":0.77},{"s":"17R","c":"o","E":1.397,"T":0.70},{"s":"17R","c":"o","E":1.521,"T":0.68},{"s":"17R","c":"o","E":1.691,"T":0.72},{"s":"17R","c":"o","E":1.866,"T":0.79},{"s":"17R","c":"o","E":2.036,"T":0.90},{"s":"17R","c":"o","E":2.165,"T":1.04},{"s":"17R","c":"o","E":2.294,"T":1.23},{"s":"17R","c":"o","E":2.397,"T":1.47},{"s":"17R","c":"o","E":2.5,"T":1.76},

{"s":"18L","c":"o","E":-2.5,"T":0.75},{"s":"18L","c":"o","E":-2.258,"T":0.88},{"s":"18L","c":"o","E":-2.088,"T":1.08},{"s":"18L","c":"o","E":-1.918,"T":1.31},{"s":"18L","c":"o","E":-1.830,"T":1.28},{"s":"18L","c":"o","E":-1.742,"T":1.11},{"s":"18L","c":"o","E":-1.572,"T":0.81},{"s":"18L","c":"o","E":-1.402,"T":0.65},{"s":"18L","c":"o","E":-1.227,"T":0.55},{"s":"18L","c":"o","E":-1.134,"T":0.57},{"s":"18L","c":"o","E":-1.057,"T":0.63},{"s":"18L","c":"o","E":-0.954,"T":0.75},{"s":"18L","c":"o","E":-0.912,"T":0.83},
{"s":"18B","c":"b","E":-0.912,"T":0.83},{"s":"18B","c":"b","E":-0.799,"T":1.01},{"s":"18B","c":"b","E":-0.711,"T":1.15},{"s":"18B","c":"b","E":-0.629,"T":1.25},{"s":"18B","c":"b","E":-0.552,"T":1.31},{"s":"18B","c":"b","E":-0.479,"T":1.30},{"s":"18B","c":"b","E":-0.371,"T":1.19},{"s":"18B","c":"b","E":-0.284,"T":1.07},{"s":"18B","c":"b","E":-0.155,"T":0.87},{"s":"18B","c":"b","E":-0.026,"T":0.66},{"s":"18B","c":"b","E":0.232,"T":0.55},{"s":"18B","c":"b","E":0.490,"T":0.50},{"s":"18B","c":"b","E":0.747,"T":0.48},{"s":"18B","c":"b","E":0.851,"T":0.48},
{"s":"18R","c":"o","E":0.851,"T":0.48},{"s":"18R","c":"o","E":1.005,"T":0.47},{"s":"18R","c":"o","E":1.206,"T":0.47},{"s":"18R","c":"o","E":1.247,"T":0.58},{"s":"18R","c":"o","E":1.294,"T":0.50},{"s":"18R","c":"o","E":1.314,"T":0.47},{"s":"18R","c":"o","E":1.521,"T":0.49},{"s":"18R","c":"o","E":1.691,"T":0.53},{"s":"18R","c":"o","E":1.866,"T":0.61},{"s":"18R","c":"o","E":2.036,"T":0.72},{"s":"18R","c":"o","E":2.165,"T":0.87},{"s":"18R","c":"o","E":2.294,"T":1.07},{"s":"18R","c":"o","E":2.397,"T":1.32},{"s":"18R","c":"o","E":2.5,"T":1.62},

{"s":"19L","c":"o","E":-2.5,"T":0.60},{"s":"19L","c":"o","E":-2.258,"T":0.81},{"s":"19L","c":"o","E":-2.088,"T":1.01},{"s":"19L","c":"o","E":-1.918,"T":1.31},{"s":"19L","c":"o","E":-1.830,"T":1.25},{"s":"19L","c":"o","E":-1.711,"T":0.95},{"s":"19L","c":"o","E":-1.572,"T":0.65},{"s":"19L","c":"o","E":-1.402,"T":0.45},{"s":"19L","c":"o","E":-1.227,"T":0.35},{"s":"19L","c":"o","E":-1.057,"T":0.38},{"s":"19L","c":"o","E":-0.954,"T":0.41},
{"s":"19B","c":"b","E":-0.954,"T":0.41},{"s":"19B","c":"b","E":-0.887,"T":0.55},{"s":"19B","c":"b","E":-0.799,"T":0.63},{"s":"19B","c":"b","E":-0.711,"T":0.75},{"s":"19B","c":"b","E":-0.629,"T":0.91},{"s":"19B","c":"b","E":-0.541,"T":1.03},{"s":"19B","c":"b","E":-0.490,"T":1.07},{"s":"19B","c":"b","E":-0.371,"T":0.95},{"s":"19B","c":"b","E":-0.284,"T":0.81},{"s":"19B","c":"b","E":-0.196,"T":0.68},{"s":"19B","c":"b","E":-0.026,"T":0.48},{"s":"19B","c":"b","E":0.232,"T":0.37},{"s":"19B","c":"b","E":0.490,"T":0.32},{"s":"19B","c":"b","E":0.747,"T":0.30},{"s":"19B","c":"b","E":0.954,"T":0.29},
{"s":"19R","c":"o","E":0.954,"T":0.29},{"s":"19R","c":"o","E":1.005,"T":0.29},{"s":"19R","c":"o","E":1.103,"T":0.29},{"s":"19R","c":"o","E":1.144,"T":0.40},{"s":"19R","c":"o","E":1.191,"T":0.32},{"s":"19R","c":"o","E":1.314,"T":0.29},{"s":"19R","c":"o","E":1.521,"T":0.31},{"s":"19R","c":"o","E":1.691,"T":0.35},{"s":"19R","c":"o","E":1.866,"T":0.43},{"s":"19R","c":"o","E":2.036,"T":0.56},{"s":"19R","c":"o","E":2.165,"T":0.71},{"s":"19R","c":"o","E":2.294,"T":0.92},{"s":"19R","c":"o","E":2.397,"T":1.18},{"s":"19R","c":"o","E":2.5,"T":1.50}
],
"ann": [
{"note":"g","s":"g1","i":0,"E":-1.768,"T":1.33},{"note":"g","s":"g1","i":1,"E":-1.675,"T":1.29},{"note":"g","s":"g1","i":2,"E":-1.588,"T":1.27},{"note":"g","s":"g1","i":3,"E":-1.418,"T":1.30},
{"note":"t","s":"t1","i":0,"E":-0.871,"T":3.16},{"note":"t","s":"t1","i":1,"E":-0.881,"T":2.91},{"note":"t","s":"t1","i":2,"E":-0.830,"T":2.73},{"note":"t","s":"t1","i":3,"E":-0.799,"T":2.48},{"note":"t","s":"t1","i":4,"E":-0.773,"T":2.33},{"note":"t","s":"t1","i":5,"E":-0.737,"T":2.20},{"note":"t","s":"t1","i":6,"E":-0.686,"T":2.00},{"note":"t","s":"t1","i":7,"E":-0.660,"T":1.81},{"note":"t","s":"t1","i":8,"E":-0.644,"T":1.60},{"note":"t","s":"t1","i":9,"E":-0.582,"T":1.35},{"note":"t","s":"t1","i":10,"E":-0.505,"T":1.11},
{"note":"t","s":"t2","i":0,"E":-0.861,"T":2.25},{"note":"t","s":"t2","i":1,"E":-0.789,"T":2.10},{"note":"t","s":"t2","i":2,"E":-0.716,"T":1.96},{"note":"t","s":"t2","i":3,"E":-0.665,"T":1.88},
{"note":"t","s":"t3","i":0,"E":-0.552,"T":2.38},{"note":"t","s":"t3","i":1,"E":-0.603,"T":2.23},{"note":"t","s":"t3","i":2,"E":-0.634,"T":2.08},{"note":"t","s":"t3","i":3,"E":-0.655,"T":1.88},
{"note":"t","s":"t4","i":0,"E":-0.680,"T":1.61},{"note":"t","s":"t4","i":1,"E":-0.619,"T":1.43},{"note":"t","s":"t4","i":2,"E":-0.552,"T":1.23},{"note":"t","s":"t4","i":3,"E":-0.505,"T":1.11},
{"note":"t","s":"t5","i":0,"E":-0.376,"T":1.65},{"note":"t","s":"t5","i":1,"E":-0.412,"T":1.48},{"note":"t","s":"t5","i":2,"E":-0.448,"T":1.28},{"note":"t","s":"t5","i":3,"E":-0.490,"T":1.11},
{"note":"r","s":"r1","i":0,"E":1.278,"T":5.78},{"note":"r","s":"r1","i":1,"E":1.289,"T":5.63},{"note":"r","s":"r1","i":2,"E":1.304,"T":5.50},{"note":"r","s":"r1","i":3,"E":1.335,"T":5.46},{"note":"r","s":"r1","i":4,"E":1.376,"T":5.53},{"note":"r","s":"r1","i":5,"E":1.428,"T":5.64},{"note":"r","s":"r1","i":6,"E":1.495,"T":5.76},
{"note":"r","s":"r2","i":0,"E":1.366,"T":5.78},{"note":"r","s":"r2","i":1,"E":1.330,"T":5.56}
]
},
"encoding": {
  "x": {"field": "E", "type": "quantitative", "scale": {"domain": [-2.5, 2.5], "nice": false, "zero": false},
        "axis": {"values": [-2, -1, 0, 1, 2], "format": "d", "title": "Energy (eV)", "grid": false, "domain": false,
                 "tickColor": "#555555", "tickSize": 5, "labelFont": "DejaVu Sans", "labelFontSize": 15, "labelColor": "#444444", "labelPadding": 6,
                 "titleFont": "DejaVu Sans", "titleFontSize": 18, "titleFontWeight": "normal", "titleColor": "#444444", "titlePadding": 10}},
  "y": {"field": "T", "type": "quantitative", "scale": {"domain": [0, 5.37], "nice": false, "zero": false},
        "axis": {"values": [0.48, 1.8, 3.13, 4.48], "labels": false, "title": null, "grid": false, "domain": false, "tickColor": "#555555", "tickSize": 5}}
},
"layer": [
  {"data": {"name": "curves"}, "transform": [{"filter": "indexof(datum.s, 'R') < 0"}],
   "mark": {"type": "line", "strokeWidth": 1.8, "clip": true, "interpolate": "monotone"},
   "encoding": {
     "detail": {"field": "s", "type": "nominal"},
     "color": {"field": "c", "type": "nominal", "scale": {"domain": ["o", "b"], "range": ["#e8912e", "#3b3b92"]}, "legend": null},
     "opacity": {"field": "c", "type": "nominal", "scale": {"domain": ["o", "b"], "range": [0.85, 0.95]}, "legend": null}
   }},
  {"data": {"name": "curves"}, "transform": [{"filter": "indexof(datum.s, 'R') >= 0"}],
   "mark": {"type": "line", "strokeWidth": 1.8, "clip": true, "interpolate": "linear"},
   "encoding": {
     "detail": {"field": "s", "type": "nominal"},
     "color": {"field": "c", "type": "nominal", "scale": {"domain": ["o", "b"], "range": ["#e8912e", "#3b3b92"]}, "legend": null},
     "opacity": {"field": "c", "type": "nominal", "scale": {"domain": ["o", "b"], "range": [0.85, 0.95]}, "legend": null}
   }},
  {"data": {"name": "ann"}, "transform": [{"filter": "datum.note == 'g'"}],
   "mark": {"type": "line", "color": "#20a512", "strokeWidth": 7, "strokeCap": "round", "strokeJoin": "round", "clip": false},
   "encoding": {"detail": {"field": "s", "type": "nominal"}, "order": {"field": "i", "type": "quantitative"}}},
  {"data": {"name": "ann"}, "transform": [{"filter": "datum.note == 't'"}],
   "mark": {"type": "line", "color": "#174f5b", "strokeWidth": 8.5, "strokeCap": "round", "strokeJoin": "round", "clip": false},
   "encoding": {"detail": {"field": "s", "type": "nominal"}, "order": {"field": "i", "type": "quantitative"}}},
  {"data": {"name": "ann"}, "transform": [{"filter": "datum.note == 'r'"}],
   "mark": {"type": "line", "color": "#e8101a", "strokeWidth": 5, "strokeCap": "round", "strokeJoin": "round", "clip": false},
   "encoding": {"detail": {"field": "s", "type": "nominal"}, "order": {"field": "i", "type": "quantitative"}}}
]
}
